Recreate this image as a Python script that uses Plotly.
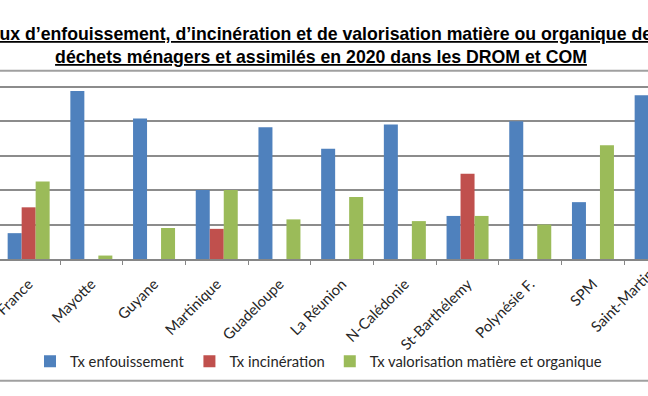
import plotly.graph_objects as go

# ---------------- data ----------------
categories = ["France", "Mayotte", "Guyane", "Martinique", "Guadeloupe", "La Réunion",
              "N-Calédonie", "St-Barthélemy", "Polynésie F.", "SPM", "Saint-Martin"]
tx_enfouissement = [15, 97.5, 81.5, 40, 76.5, 64, 78, 25, 80, 33, 95]
tx_incineration = [30, None, None, 17.5, None, None, None, 49.5, None, None, None]
tx_valorisation = [45, 2, 18, 40, 23, 36, 22, 25, 20, 66, 4]
series_names = ["Tx enfouissement", "Tx incinération", "Tx valorisation matière et organique"]
y_ticks = [0, 20, 40, 60, 80, 100]

title_text = ("Taux d’enfouissement, d’incinération et de valorisation matière ou organique des<br>"
              "déchets ménagers et assimilés en 2020 dans les DROM et COM")
caption_text = ("Données non disponibles pour Wallis et Futuna, taux calculés sur les déchets "
                "ménagers et assimilés collectés")

# ---------------- layout constants ----------------
W, H = 648, 396
y_max = 101
grid_top_px, plot_bottom = 87, 259.3
k = (plot_bottom - grid_top_px) / 100.0
plot_top = plot_bottom - y_max * k
cat_px = 62.7
x0 = -28.65 / cat_px
x1 = x0 + W / cat_px


def py(ypx):
    return (plot_bottom - ypx) / (plot_bottom - plot_top)


colors = ["#4F81BD", "#C0504D", "#9BBB59"]
tick_font = dict(family="Lato", size=14.8, color="#262626")

fig = go.Figure()
for name, vals, col in zip(series_names, [tx_enfouissement, tx_incineration, tx_valorisation], colors):
    fig.add_trace(go.Bar(x=categories, y=vals, name=name, marker=dict(color=col, line=dict(width=0))))

last_idx = len(categories) - 1
fig.add_annotation(
    text=categories[last_idx], xref="paper", yref="paper",
    x=(last_idx - x0) / (x1 - x0), y=0, xanchor="right", yanchor="top",
    yshift=-3, xshift=4, textangle=-45, showarrow=False, font=tick_font,
)
fig.add_annotation(
    text=caption_text, xref="paper", yref="paper", x=7 / W, y=py(391.5),
    xanchor="left", yanchor="top", showarrow=False,
    font=dict(family="Liberation Sans", size=15, color="#000000", weight="bold"),
)

for ypx in (71, 381):
    fig.add_shape(type="line", xref="paper", yref="paper", x0=0, x1=1, y0=py(ypx), y1=py(ypx),
                  line=dict(color="#a0a0a0", width=2))

fig.update_layout(
    template="none",
    width=W, height=H,
    margin=dict(l=0, r=0, t=plot_top, b=H - plot_bottom, pad=0, autoexpand=False),
    paper_bgcolor="white", plot_bgcolor="white",
    barmode="group", bargap=0.33, bargroupgap=0,
    title=dict(text=title_text, x=321 / W, xanchor="center", xref="container",
               y=1 - 40 / H, yanchor="top", yref="container",
               font=dict(family="Liberation Sans", size=17.7, color="#000000",
                         weight="bold", lineposition="under")),
    xaxis=dict(type="category", range=[x0, x1], tickson="boundaries", ticks="outside",
               ticklen=4, tickwidth=1.2, tickcolor="#868686", showline=True,
               linecolor="#868686", linewidth=1.5, tickangle=-45, tickfont=tick_font,
               showgrid=False, automargin=False, ticklabelstandoff=9),
    yaxis=dict(range=[0, y_max], tickvals=y_ticks, showticklabels=False, gridcolor="#8c8c8c",
               gridwidth=1.5, zeroline=False, showline=False, ticks="", automargin=False),
    legend=dict(orientation="h", x=30 / W, xanchor="left", y=py(362), yanchor="middle",
                font=tick_font, bgcolor="rgba(0,0,0,0)", borderwidth=0),
    showlegend=True,
)

fig.write_html("out.html", config={"displayModeBar": False},
               post_script="document.body.style.margin='0px';document.body.style.overflow='hidden';")
